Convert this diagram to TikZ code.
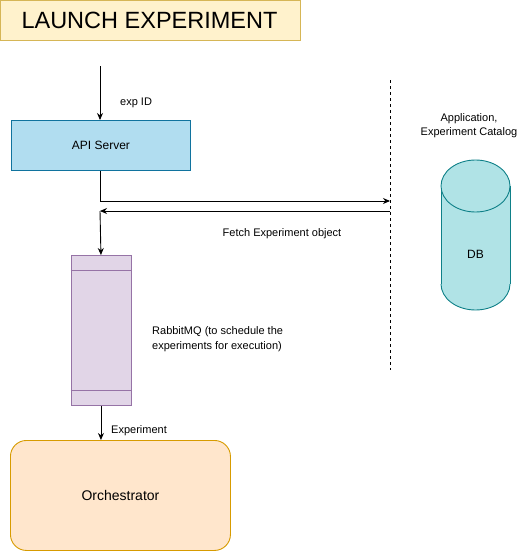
\documentclass[tikz,border=0pt]{standalone}
\usepackage{fontspec}
\setmainfont{Liberation Sans}
\usetikzlibrary{arrows.meta}
\definecolor{titlefill}{HTML}{FFF2CC}
\definecolor{titledraw}{HTML}{D6B656}
\definecolor{apifill}{HTML}{B1DDF0}
\definecolor{apidraw}{HTML}{10739E}
\definecolor{qfill}{HTML}{E1D5E7}
\definecolor{qdraw}{HTML}{9673A6}
\definecolor{orfill}{HTML}{FFE6CC}
\definecolor{ordraw}{HTML}{D79B00}
\definecolor{dbfill}{HTML}{B0E3E6}
\definecolor{dbdraw}{HTML}{0E8088}
\tikzset{
  conn/.style={draw=black, line width=0.9pt, -{Stealth[length=7pt,width=6pt]}},
  lbl/.style={font=\fontsize{11}{13}\selectfont, inner sep=0pt},
  boxtext/.style={inner sep=0pt},
  dbline/.style={draw=dbdraw, line width=0.9pt},
}
\begin{document}
\begin{tikzpicture}[x=1pt,y=-1pt]
\useasboundingbox (0,0) rectangle (531,551);
% title
\draw[fill=titlefill, draw=titledraw, line width=0.9pt] (0.5,0.5) rectangle (300,40);
\node[boxtext, font=\fontsize{23.5}{26}\selectfont] (title) at (149.5,20) {LAUNCH EXPERIMENT};
% API server
\node[draw=apidraw, fill=apifill, line width=0.9pt, minimum width=179pt, minimum height=50pt, inner sep=0pt, font=\fontsize{12}{14}\selectfont, anchor=north west] (api) at (11,120) {API Server};
\coordinate (in) at (100,66);
\draw[conn] (in) -- (api.north -| in);
\node[lbl, anchor=west] (expid) at (120,103) {exp ID};
% lifeline
\coordinate (lltop) at (390,80);
\coordinate (llbot) at (390,370);
\draw[black, line width=0.8pt, dash pattern=on 3pt off 3pt] (lltop) -- (llbot);
\coordinate (a1) at (100,201);
\coordinate (a2) at (390,201);
\draw[conn] (api.south -| a1) -- (a1) -- (a2);
\coordinate (b1) at (390,211);
\coordinate (b2) at (100,211);
\draw[conn] (b1) -- (b2);
\node[lbl] (fetch) at (282,234) {Fetch Experiment object};
% queue
\node[draw=qdraw, fill=qfill, line width=0.9pt, minimum width=60pt, minimum height=150pt, inner sep=0pt, anchor=north west] (queue) at (70.5,255) {};
\draw[qdraw, line width=0.9pt] ([yshift=-15pt]queue.north west) -- ([yshift=-15pt]queue.north east);
\draw[qdraw, line width=0.9pt] ([yshift=15pt]queue.south west) -- ([yshift=15pt]queue.south east);
\draw[conn] (b2) -- (queue.north);
\node[lbl, anchor=north west, align=left, font=\fontsize{11}{15}\selectfont] (rmq) at (152,326) {RabbitMQ (to schedule the\\experiments for execution)};
% orchestrator
\node[draw=ordraw, fill=orfill, line width=0.9pt, rounded corners=16pt, minimum width=220pt, minimum height=110pt, inner sep=0pt, anchor=north west, font=\fontsize{14}{16}\selectfont] (orch) at (10,440) {Orchestrator};
\draw[conn] (queue.south) -- (orch.north -| queue.south);
\node[lbl, anchor=west] (explbl) at (111,431) {Experiment};
% DB cylinder
\fill[dbfill] (441,186) rectangle (510,284);
\fill[dbfill] (475.5,284) ellipse [x radius=34.5, y radius=26];
\draw[dbline] (441,186) -- (441,284);
\draw[dbline] (510,186) -- (510,284);
\begin{scope}
\clip (430,284) rectangle (520,320);
\draw[dbline] (475.5,284) ellipse [x radius=34.5, y radius=26];
\end{scope}
\draw[dbline, fill=dbfill] (475.5,186) ellipse [x radius=34.5, y radius=26];
\node[boxtext, font=\fontsize{12}{14}\selectfont] (db) at (475.5,254) {DB};
\node[lbl, align=center, font=\fontsize{11}{14}\selectfont] (app) at (469,126) {Application,\\Experiment Catalog};
\end{tikzpicture}
\end{document}
